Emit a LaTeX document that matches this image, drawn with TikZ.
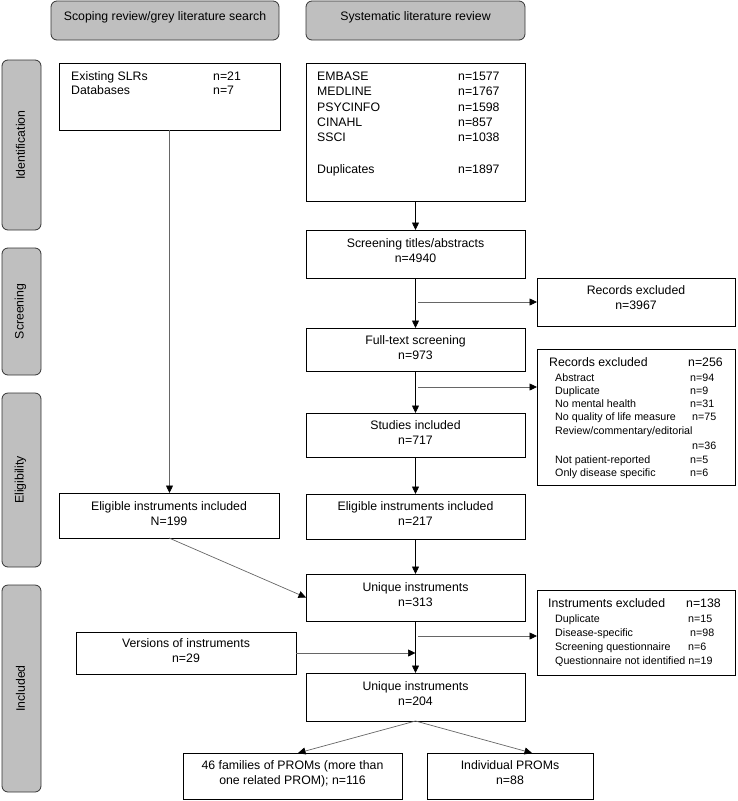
\documentclass[tikz,border=0pt]{standalone}
\usepackage{fontspec}
\setmainfont{Liberation Sans}
\usetikzlibrary{arrows.meta}
\begin{document}
\begin{tikzpicture}[x=1pt,y=-1pt,
  box/.style={draw=black, line width=0.8pt, rectangle, inner sep=0pt, outer sep=0pt, fill=white},
  phase/.style={draw=black!80, line width=0.8pt, fill=black!25, rounded corners=6pt, inner sep=0pt, outer sep=0pt},
  lbl/.style={font=\fontsize{12.3}{15.5}\selectfont, align=center, inner sep=0pt},
  txt/.style={font=\fontsize{12.3}{15.5}\selectfont, inner sep=0pt, anchor=base west},
  sub/.style={font=\fontsize{10.7}{13}\selectfont, inner sep=0pt, anchor=base west},
  arr/.style={line width=0.7pt, draw=black, -{Triangle[length=7.5pt,width=7pt]}},
  sarr/.style={line width=0.7pt, draw=black!60, -{Triangle[length=7.5pt,width=7pt,black]}},
  thin/.style={line width=0.7pt, draw=black!60},
]
\useasboundingbox (0,0) rectangle (737,801);

% headers
\node[phase, minimum width=228pt, minimum height=39pt] (hdrL) at (165,20.5) {};
\node[lbl, anchor=base] (hdrLt) at (165,20.4) {Scoping review/grey literature search};
\node[phase, minimum width=219pt, minimum height=39pt] (hdrR) at (415.5,20.5) {};
\node[lbl, anchor=base] (hdrRt) at (415.5,20.4) {Systematic literature review};

% phase bands
\node[phase, minimum width=39pt, minimum height=170pt] (bId) at (21.5,145) {};
\node[lbl, rotate=90] (bIdt) at (20.5,145) {Identification};
\node[phase, minimum width=39pt, minimum height=127pt] (bScr) at (21.5,311.5) {};
\node[lbl, rotate=90] (bScrt) at (20.5,311.5) {Screening};
\node[phase, minimum width=39pt, minimum height=174pt] (bEl) at (21.5,480) {};
\node[lbl, rotate=90] (bElt) at (20.5,480) {Eligibility};
\node[phase, minimum width=39pt, minimum height=207pt] (bIn) at (21.5,688.5) {};
\node[lbl, rotate=90] (bInt) at (20.5,688.5) {Included};

% identification boxes
\node[box, minimum width=221pt, minimum height=67pt] (grey) at (169.5,96.5) {};
\node[txt] (g1) at (71,80.4) {Existing SLRs};
\node[txt] (g1n) at (213,80.4) {n=21};
\node[txt] (g2) at (71,94.4) {Databases};
\node[txt] (g2n) at (213,94.4) {n=7};

\node[box, minimum width=219pt, minimum height=138pt] (slr) at (415.5,132) {};
\node[txt] (s1) at (317,80.4) {EMBASE};
\node[txt] (s1n) at (458,80.4) {n=1577};
\node[txt] (s2) at (317,95.7) {MEDLINE};
\node[txt] (s2n) at (458,95.7) {n=1767};
\node[txt] (s3) at (317,111.0) {PSYCINFO};
\node[txt] (s3n) at (458,111.0) {n=1598};
\node[txt] (s4) at (317,126.3) {CINAHL};
\node[txt] (s4n) at (458,126.3) {n=857};
\node[txt] (s5) at (317,141.6) {SSCI};
\node[txt] (s5n) at (458,141.6) {n=1038};
\node[txt] (s6) at (317,173.0) {Duplicates};
\node[txt] (s6n) at (458,173.0) {n=1897};

% main column
\node[box, minimum width=219pt, minimum height=48pt] (screen) at (415.5,254) {};
\node[lbl] (screent) at (415.5,250.65) {Screening titles/abstracts\\n=4940};
\node[box, minimum width=219pt, minimum height=43pt] (full) at (415.5,349.5) {};
\node[lbl] (fullt) at (415.5,347.65) {Full-text screening\\n=973};
\node[box, minimum width=219pt, minimum height=44pt] (studies) at (415.5,435) {};
\node[lbl] (studiest) at (415.5,432.65) {Studies included\\n=717};
\node[box, minimum width=219pt, minimum height=45pt] (eligR) at (415.5,516.5) {};
\node[lbl] (eligRt) at (415.5,513.65) {Eligible instruments included\\n=217};
\node[box, minimum width=220pt, minimum height=45pt] (eligL) at (169,515.5) {};
\node[lbl] (eligLt) at (169,513.65) {Eligible instruments included\\N=199};
\node[box, minimum width=219pt, minimum height=47pt] (uniq1) at (415.5,597.5) {};
\node[lbl] (uniq1t) at (415.5,594.65) {Unique instruments\\n=313};
\node[box, minimum width=220pt, minimum height=42pt] (vers) at (186,653) {};
\node[lbl] (verst) at (186,650.65) {Versions of instruments\\n=29};
\node[box, minimum width=219pt, minimum height=48pt] (uniq2) at (415.5,697) {};
\node[lbl] (uniq2t) at (415.5,693.65) {Unique instruments\\n=204};
\node[box, minimum width=219pt, minimum height=46pt] (fam) at (292.5,776) {};
\node[lbl] (famt) at (292.5,773.95) {46 families of PROMs (more than\\one related PROM); n=116};
\node[box, minimum width=166pt, minimum height=46pt] (indiv) at (510,776) {};
\node[lbl] (indivt) at (510,772.65) {Individual PROMs\\n=88};

% exclusion boxes
\node[box, minimum width=198pt, minimum height=48pt] (rex1) at (636,302) {};
\node[lbl] (rex1t) at (636,297.65) {Records excluded\\n=3967};

\node[box, minimum width=198pt, minimum height=136pt] (rex2) at (636,417) {};
\node[txt] (r0) at (549,366.4) {Records excluded};
\node[txt] (r0n) at (688,366.4) {n=256};
\node[sub] (r1) at (555,381.3) {Abstract};
\node[sub] (r1n) at (690,381.3) {n=94};
\node[sub] (r2) at (555,394.8) {Duplicate};
\node[sub] (r2n) at (690,394.8) {n=9};
\node[sub] (r3) at (555,407.8) {No mental health};
\node[sub] (r3n) at (690,407.8) {n=31};
\node[sub] (r4) at (555,420.8) {No quality of life measure};
\node[sub] (r4n) at (692,420.8) {n=75};
\node[sub] (r5) at (555,434.8) {Review/commentary/editorial};
\node[sub] (r5n) at (692,449.8) {n=36};
\node[sub] (r6) at (555,463.8) {Not patient-reported};
\node[sub] (r6n) at (690,463.8) {n=5};
\node[sub] (r7) at (555,476.8) {Only disease specific};
\node[sub] (r7n) at (690,476.8) {n=6};

\node[box, minimum width=198pt, minimum height=85pt] (iex) at (636,632.5) {};
\node[txt] (i0) at (548,607.4) {Instruments excluded};
\node[txt] (i0n) at (686,607.4) {n=138};
\node[sub] (i1) at (555,622.8) {Duplicate};
\node[sub] (i1n) at (688,622.8) {n=15};
\node[sub] (i2) at (555,636.8) {Disease-specific};
\node[sub] (i2n) at (690,636.8) {n=98};
\node[sub] (i3) at (555,650.8) {Screening questionnaire};
\node[sub] (i3n) at (688,650.8) {n=6};
\node[sub] (i4) at (555,664.8) {Questionnaire not identified n=19};

% connectors
\draw[arr] (slr.south) -- (screen.north);
\draw[arr] (screen.south) -- (full.north);
\draw[arr] (full.south) -- (studies.north);
\draw[arr] (studies.south) -- (eligR.north);
\draw[arr] (eligR.south) -- (uniq1.north);
\draw[arr] (uniq1.south) -- (uniq2.north);

\coordinate (b1) at (418,302);
\coordinate (b2) at (418,387);
\coordinate (b3) at (418,636);
\draw[sarr] (b1) -- (b1 -| rex1.west);
\draw[sarr] (b2) -- (b2 -| rex2.west);
\draw[sarr] (b3) -- (b3 -| iex.west);
\draw[sarr] (vers.east) -- (vers.east -| uniq1.south);

\draw[sarr] (grey.south) -- (grey.south |- eligL.north);
\draw[sarr] (eligL.south) -- (uniq1.west);

\coordinate (famtop) at ([xshift=5.5pt]fam.north);
\coordinate (indtop) at ([xshift=22pt]indiv.north);
\draw[sarr] (uniq2.south) -- (famtop);
\draw[sarr] (uniq2.south) -- (indtop);
\end{tikzpicture}
\end{document}
